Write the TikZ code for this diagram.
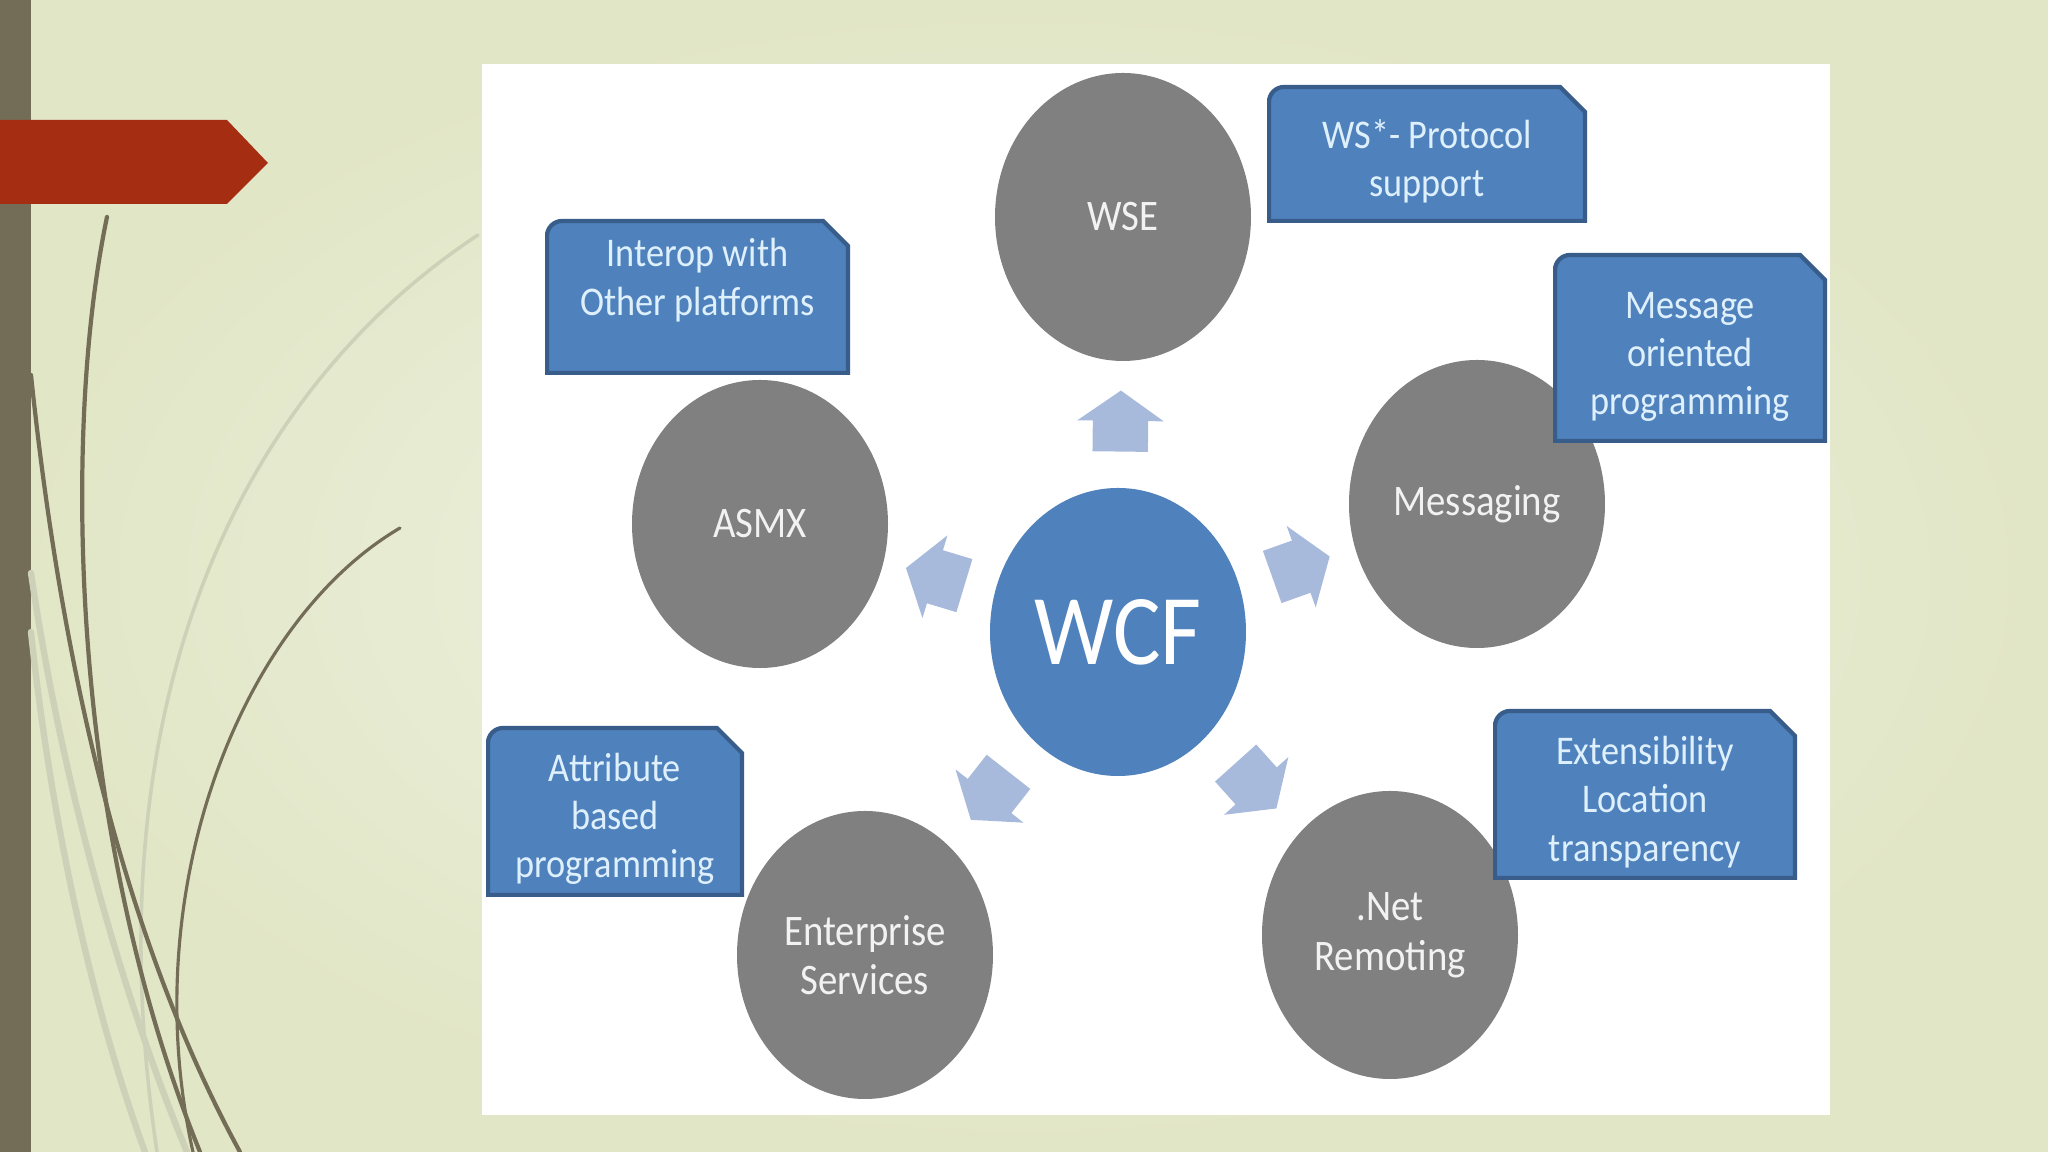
\documentclass[tikz,border=0pt]{standalone}
\usepackage{fontspec}
\setmainfont{Carlito}[FakeStretch=0.89]
\usetikzlibrary{shapes.geometric, shapes.arrows, positioning}

\definecolor{barbrown}{RGB}{115,108,86}
\definecolor{banner}{RGB}{165,46,18}
\definecolor{bgbase}{RGB}{225,230,198}
\definecolor{bglight}{RGB}{240,243,228}
\definecolor{leaf}{RGB}{204,209,184}
\definecolor{ballgray}{RGB}{128,128,128}
\definecolor{wcfblue}{RGB}{79,129,189}
\definecolor{tagedge}{RGB}{56,93,138}
\definecolor{tagtext}{RGB}{222,240,252}
\definecolor{flowblue}{RGB}{168,186,220}

% first line of a tag, set a little lower
\newcommand{\tagtop}{\rule{0pt}{12.4pt}}

\tikzset{
    ball/.style={ellipse, fill=ballgray, minimum width=2.56cm, minimum height=2.88cm,
        inner sep=0pt, align=center, text=white!95!black,
        font=\fontsize{12.4}{14.1}\selectfont},
    hub/.style={ball, fill=wcfblue, text=white, font=\fontsize{28.5}{30}\selectfont},
    flow/.style={single arrow, fill=flowblue, minimum height=0.61cm, minimum width=0.85cm,
        single arrow head extend=0.155cm, single arrow tip angle=110,
        single arrow head indent=0pt, inner xsep=0pt, inner ysep=0.27cm,
        sloped, allow upside down, pos=0.45},
    tag/.style={inner sep=0pt, align=center, text=tagtext,
        font=\fontsize{11.6}{13.7}\selectfont,
        path picture={
            \filldraw[fill=wcfblue, draw=tagedge, line width=1.2pt]
                ([shift={(0.02,0.02)}]path picture bounding box.south west)
                -- ([shift={(0.02,-0.17)}]path picture bounding box.north west)
                arc[start angle=180, end angle=90, radius=0.15]
                -- ([shift={(-0.27,-0.02)}]path picture bounding box.north east)
                -- ([shift={(-0.02,-0.27)}]path picture bounding box.north east)
                -- ([shift={(-0.02,0.02)}]path picture bounding box.south east)
                -- cycle;
        }},
    grass/.style={barbrown, line width=1.2pt, line cap=round},
    pale/.style={leaf, line width=1.8pt, line cap=round},
}

\begin{document}
\begin{tikzpicture}
    \useasboundingbox (0,0) rectangle (20.48,11.52);
    % slide background
    \shade[inner color=bglight, outer color=bgbase] (0,0) rectangle (20.48,11.52);
    \fill[barbrown] (0,0) rectangle (0.31,11.52);
    \fill[banner] (0,10.32) -- (2.27,10.32) -- (2.68,9.89) -- (2.27,9.48) -- (0,9.48) -- cycle;

    % grass lines
    \draw[pale, line width=1pt] (4.78,9.17) .. controls (2.4,7.6) and (0.9,4.5) .. (1.57,0);
    \draw[pale] (0.31,5.79) .. controls (0.6,3.8) and (1.2,1.6) .. (1.87,0);
    \draw[pale] (0.31,5.20) .. controls (0.5,3.4) and (0.9,1.5) .. (1.45,0);
    \draw[grass] (1.07,9.35) .. controls (0.62,7.2) and (0.70,3.2) .. (2.0,0);
    \draw[grass] (0.31,7.77) .. controls (0.6,5.0) and (1.2,2.2) .. (2.4,0);
    \draw[grass, line width=0.9pt] (4.0,6.24) .. controls (2.4,5.3) and (1.35,2.6) .. (1.93,0);

    % picture panel
    \fill[white] (4.82,0.37) rectangle (18.30,10.88);

    \node[hub] (wcf) at (11.18,5.20) {WCF};
    \node[ball] (wse) at (11.23,9.35) {WSE};
    \node[ball] (msg) at (14.77,6.48) {Messaging};
    \node[ball] (remoting) at (13.90,2.17) {.Net\\Remoting};
    \node[ball] (ent) at (8.65,1.97) {Enterprise\\Services};
    \node[ball] (asmx) at (7.60,6.28) {ASMX};

    \path (wcf) -- node[flow] (pwse) {} (wse);
    \path (wcf) -- node[flow] (pmsg) {} (msg);
    \path (wcf) -- node[flow] (prem) {} (remoting);
    \path (wcf) -- node[flow] (pent) {} (ent);
    \path (wcf) -- node[flow] (pasmx) {} (asmx);

    \node[tag, minimum width=3.20cm, minimum height=1.38cm] (wstag) at (14.27,9.98) {\tagtop WS*- Protocol\\support};
    \node[tag, minimum width=2.74cm, minimum height=1.90cm] (msgtag) at (16.90,8.04) {\tagtop Message\\oriented\\programming};
    \node[tag, minimum width=3.05cm, minimum height=1.56cm] (interoptag) at (6.975,8.55) {\tagtop Interop with\\Other platforms\\[-2pt]\strut};
    \node[tag, minimum width=2.58cm, minimum height=1.71cm] (attrtag) at (6.15,3.405) {\tagtop Attribute\\based\\programming};
    \node[tag, minimum width=3.04cm, minimum height=1.71cm] (exttag) at (16.45,3.575) {\tagtop Extensibility\\Location\\transparency};
\end{tikzpicture}
\end{document}
